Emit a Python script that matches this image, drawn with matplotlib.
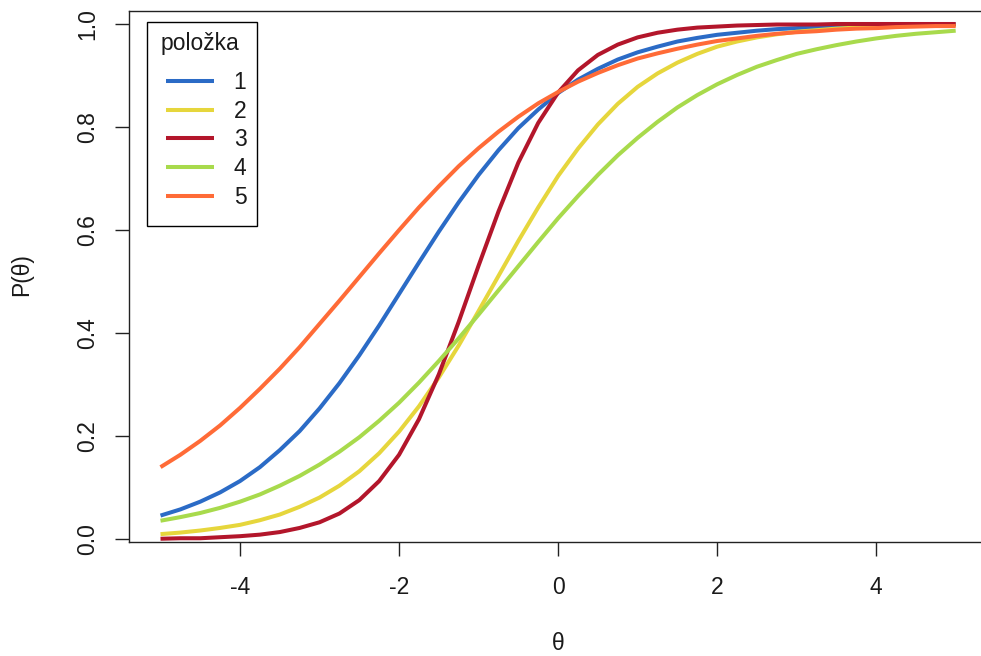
import matplotlib
matplotlib.use("Agg")
import matplotlib.pyplot as plt
from matplotlib.patches import Rectangle

plt.rcParams['font.family'] = ['Liberation Sans', 'DejaVu Sans']

# theta grid and item characteristic curves
theta = [-5.0, -4.75, -4.5, -4.25, -4.0, -3.75, -3.5, -3.25, -3.0, -2.75,
         -2.5, -2.25, -2.0, -1.75, -1.5, -1.25, -1.0, -0.75, -0.5, -0.25,
         0.0, 0.25, 0.5, 0.75, 1.0, 1.25, 1.5, 1.75, 2.0, 2.25,
         2.5, 2.75, 3.0, 3.25, 3.5, 3.75, 4.0, 4.25, 4.5, 4.75, 5.0]

item1 = [0.046, 0.058, 0.073, 0.091, 0.113, 0.140, 0.173, 0.210, 0.254, 0.303,
         0.357, 0.415, 0.476, 0.537, 0.597, 0.654, 0.707, 0.755, 0.798, 0.834,
         0.866, 0.892, 0.913, 0.931, 0.945, 0.956, 0.966, 0.973, 0.979, 0.983,
         0.987, 0.990, 0.992, 0.994, 0.995, 0.996, 0.997, 0.998, 0.998, 0.999, 0.999]
item2 = [0.010, 0.013, 0.017, 0.022, 0.028, 0.037, 0.048, 0.063, 0.081, 0.104,
         0.132, 0.167, 0.209, 0.258, 0.314, 0.376, 0.443, 0.511, 0.579, 0.644,
         0.705, 0.758, 0.805, 0.845, 0.878, 0.904, 0.925, 0.942, 0.956, 0.966,
         0.974, 0.980, 0.985, 0.988, 0.991, 0.993, 0.995, 0.996, 0.997, 0.998, 0.998]
item3 = [0.001, 0.002, 0.002, 0.004, 0.006, 0.009, 0.014, 0.022, 0.033, 0.050,
         0.076, 0.113, 0.164, 0.233, 0.320, 0.422, 0.531, 0.636, 0.731, 0.808,
         0.867, 0.910, 0.940, 0.960, 0.974, 0.983, 0.989, 0.993, 0.995, 0.997,
         0.998, 0.999, 0.999, 0.999, 1.000, 1.000, 1.000, 1.000, 1.000, 1.000, 1.000]
item4 = [0.036, 0.043, 0.051, 0.061, 0.073, 0.087, 0.104, 0.123, 0.145, 0.170,
         0.198, 0.230, 0.265, 0.304, 0.346, 0.390, 0.436, 0.483, 0.530, 0.577,
         0.623, 0.666, 0.707, 0.745, 0.779, 0.810, 0.838, 0.862, 0.883, 0.901,
         0.917, 0.930, 0.942, 0.951, 0.959, 0.966, 0.972, 0.977, 0.981, 0.984, 0.987]
item5 = [0.140, 0.164, 0.191, 0.221, 0.255, 0.292, 0.331, 0.373, 0.418, 0.463,
         0.509, 0.555, 0.600, 0.644, 0.685, 0.724, 0.759, 0.791, 0.820, 0.846,
         0.868, 0.888, 0.905, 0.920, 0.933, 0.943, 0.952, 0.960, 0.967, 0.972,
         0.977, 0.981, 0.984, 0.986, 0.989, 0.991, 0.992, 0.994, 0.995, 0.996, 0.996]

items = [item1, item2, item3, item4, item5]
labels = ['1', '2', '3', '4', '5']
colors = ['#2b6bc6', '#e6d63c', '#b3162b', '#a8da4c', '#ff6b37']

xticks = [-4, -2, 0, 2, 4]
yticks = [0.0, 0.2, 0.4, 0.6, 0.8, 1.0]

W, H = 981, 656
fs = 16.5
fig = plt.figure(figsize=(W / 100, H / 100), dpi=100)
# box goes past the right edge of the picture, as in the reference
ax = fig.add_axes([128.7 / W, (H - 541.7) / H, (987.5 - 128.7) / W, (541.7 - 10.7) / H])

for vals, lab, col in zip(items, labels, colors):
    ax.plot(theta, vals, color=col, lw=2.9, label=lab, solid_capstyle='butt')

ax.set_xlim(-5.4, 5.4)
ax.set_ylim(-0.0047, 1.0258)
ax.set_xticks(xticks)
ax.set_xticklabels([str(t) for t in xticks])
ax.set_yticks(yticks)
ax.set_yticklabels(['%.1f' % t for t in yticks])

for s in ax.spines.values():
    s.set_linewidth(1.0)
    s.set_color('#222222')
ax.tick_params(direction='out', length=10, width=1.0, color='#222222',
               labelsize=fs, labelcolor='#1a1a1a')
ax.tick_params(axis='x', pad=14.5)
ax.tick_params(axis='y', pad=11, labelrotation=90)
for t in ax.get_yticklabels():
    t.set_verticalalignment('center')

fig.text(558 / W, 1 - 643 / H, 'θ', ha='center', va='center', fontsize=fs, color='#1a1a1a')
fig.text(22 / W, 1 - 275 / H, 'P(θ)', ha='center', va='center', rotation=90,
         fontsize=fs, color='#1a1a1a')

# legend: frame and title drawn separately so they sit like R's legend()
fig.patches.append(Rectangle((146.7 / W, 1 - 225.7 / H), 110.6 / W, 204 / H,
                             transform=fig.transFigure, fill=False,
                             ec='black', lw=1.0))
fig.text(199.5 / W, 1 - 43.3 / H, 'položka', ha='center', va='center',
         fontsize=fs, color='#1a1a1a')
leg = ax.legend(loc='upper left', bbox_to_anchor=(166 / W, 1 - 71 / H),
                bbox_transform=fig.transFigure, frameon=False,
                borderaxespad=0, borderpad=0, fontsize=fs,
                handlelength=2.1, handletextpad=0.85, labelspacing=0.25)
for t in leg.get_texts():
    t.set_color('#1a1a1a')

fig.savefig('out.png', dpi=100)
